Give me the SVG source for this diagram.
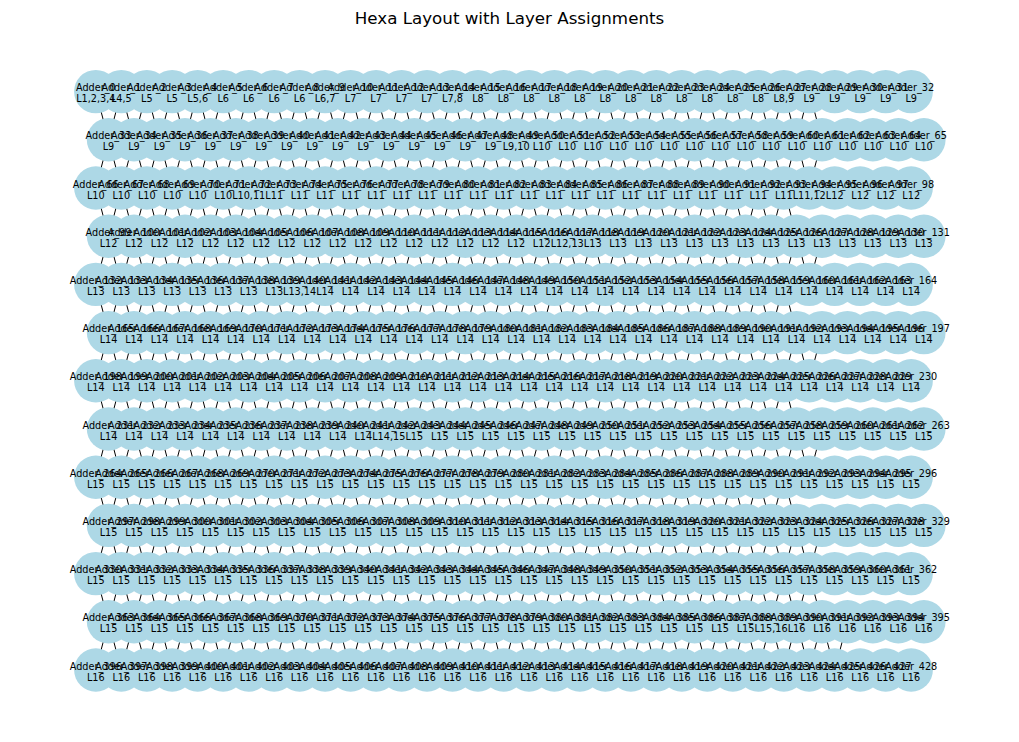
<svg xmlns="http://www.w3.org/2000/svg" width="1019" height="742" viewBox="0 0 1019 742">
<style>
.bg{fill:#fff}
.title{font-family:"DejaVu Sans","Liberation Sans",sans-serif;font-size:16.7px;fill:#000;text-anchor:middle}
#connectors path{fill:none;stroke:#000;stroke-width:1}
#nodes circle{fill:#add8e6;stroke:none}
#labels text{font-family:"DejaVu Sans","Liberation Sans",sans-serif;font-size:9.7px;fill:#000;text-anchor:middle}
</style>
<rect class="bg" width="1019" height="742"/>
<text class="title" x="509.5" y="24">Hexa Layout with Layer Assignments</text>
<g id="connectors">
<path d="M95.8 91.6l12.74 48.2 12.74-48.2 12.74 48.2 12.74-48.2 12.74 48.2 12.74-48.2 12.74 48.2 12.74-48.2 12.74 48.2 12.74-48.2 12.74 48.2 12.74-48.2 12.74 48.2 12.74-48.2 12.74 48.2 12.74-48.2 12.74 48.2 12.74-48.2 12.74 48.2 12.74-48.2 12.74 48.2 12.74-48.2 12.74 48.2 12.74-48.2 12.74 48.2 12.74-48.2 12.74 48.2 12.74-48.2 12.74 48.2 12.74-48.2 12.74 48.2 12.74-48.2 12.74 48.2 12.74-48.2 12.74 48.2 12.74-48.2 12.74 48.2 12.74-48.2 12.74 48.2 12.74-48.2 12.74 48.2 12.74-48.2 12.74 48.2 12.74-48.2 12.74 48.2 12.74-48.2 12.74 48.2 12.74-48.2 12.74 48.2 12.74-48.2 12.74 48.2 12.74-48.2 12.74 48.2 12.74-48.2 12.74 48.2 12.74-48.2 12.74 48.2"/>
<path d="M95.8 188l12.74-48.2 12.74 48.2 12.74-48.2 12.74 48.2 12.74-48.2 12.74 48.2 12.74-48.2 12.74 48.2 12.74-48.2 12.74 48.2 12.74-48.2 12.74 48.2 12.74-48.2 12.74 48.2 12.74-48.2 12.74 48.2 12.74-48.2 12.74 48.2 12.74-48.2 12.74 48.2 12.74-48.2 12.74 48.2 12.74-48.2 12.74 48.2 12.74-48.2 12.74 48.2 12.74-48.2 12.74 48.2 12.74-48.2 12.74 48.2 12.74-48.2 12.74 48.2 12.74-48.2 12.74 48.2 12.74-48.2 12.74 48.2 12.74-48.2 12.74 48.2 12.74-48.2 12.74 48.2 12.74-48.2 12.74 48.2 12.74-48.2 12.74 48.2 12.74-48.2 12.74 48.2 12.74-48.2 12.74 48.2 12.74-48.2 12.74 48.2 12.74-48.2 12.74 48.2 12.74-48.2 12.74 48.2 12.74-48.2 12.74 48.2 12.74-48.2"/>
<path d="M95.8 188l12.74 48.2 12.74-48.2 12.74 48.2 12.74-48.2 12.74 48.2 12.74-48.2 12.74 48.2 12.74-48.2 12.74 48.2 12.74-48.2 12.74 48.2 12.74-48.2 12.74 48.2 12.74-48.2 12.74 48.2 12.74-48.2 12.74 48.2 12.74-48.2 12.74 48.2 12.74-48.2 12.74 48.2 12.74-48.2 12.74 48.2 12.74-48.2 12.74 48.2 12.74-48.2 12.74 48.2 12.74-48.2 12.74 48.2 12.74-48.2 12.74 48.2 12.74-48.2 12.74 48.2 12.74-48.2 12.74 48.2 12.74-48.2 12.74 48.2 12.74-48.2 12.74 48.2 12.74-48.2 12.74 48.2 12.74-48.2 12.74 48.2 12.74-48.2 12.74 48.2 12.74-48.2 12.74 48.2 12.74-48.2 12.74 48.2 12.74-48.2 12.74 48.2 12.74-48.2 12.74 48.2 12.74-48.2 12.74 48.2"/>
<path d="M95.8 284.4l12.74-48.2 12.74 48.2 12.74-48.2 12.74 48.2 12.74-48.2 12.74 48.2 12.74-48.2 12.74 48.2 12.74-48.2 12.74 48.2 12.74-48.2 12.74 48.2 12.74-48.2 12.74 48.2 12.74-48.2 12.74 48.2 12.74-48.2 12.74 48.2 12.74-48.2 12.74 48.2 12.74-48.2 12.74 48.2 12.74-48.2 12.74 48.2 12.74-48.2 12.74 48.2 12.74-48.2 12.74 48.2 12.74-48.2 12.74 48.2 12.74-48.2 12.74 48.2 12.74-48.2 12.74 48.2 12.74-48.2 12.74 48.2 12.74-48.2 12.74 48.2 12.74-48.2 12.74 48.2 12.74-48.2 12.74 48.2 12.74-48.2 12.74 48.2 12.74-48.2 12.74 48.2 12.74-48.2 12.74 48.2 12.74-48.2 12.74 48.2 12.74-48.2 12.74 48.2 12.74-48.2 12.74 48.2 12.74-48.2 12.74 48.2 12.74-48.2"/>
<path d="M95.8 284.4l12.74 48.2 12.74-48.2 12.74 48.2 12.74-48.2 12.74 48.2 12.74-48.2 12.74 48.2 12.74-48.2 12.74 48.2 12.74-48.2 12.74 48.2 12.74-48.2 12.74 48.2 12.74-48.2 12.74 48.2 12.74-48.2 12.74 48.2 12.74-48.2 12.74 48.2 12.74-48.2 12.74 48.2 12.74-48.2 12.74 48.2 12.74-48.2 12.74 48.2 12.74-48.2 12.74 48.2 12.74-48.2 12.74 48.2 12.74-48.2 12.74 48.2 12.74-48.2 12.74 48.2 12.74-48.2 12.74 48.2 12.74-48.2 12.74 48.2 12.74-48.2 12.74 48.2 12.74-48.2 12.74 48.2 12.74-48.2 12.74 48.2 12.74-48.2 12.74 48.2 12.74-48.2 12.74 48.2 12.74-48.2 12.74 48.2 12.74-48.2 12.74 48.2 12.74-48.2 12.74 48.2 12.74-48.2 12.74 48.2"/>
<path d="M95.8 380.8l12.74-48.2 12.74 48.2 12.74-48.2 12.74 48.2 12.74-48.2 12.74 48.2 12.74-48.2 12.74 48.2 12.74-48.2 12.74 48.2 12.74-48.2 12.74 48.2 12.74-48.2 12.74 48.2 12.74-48.2 12.74 48.2 12.74-48.2 12.74 48.2 12.74-48.2 12.74 48.2 12.74-48.2 12.74 48.2 12.74-48.2 12.74 48.2 12.74-48.2 12.74 48.2 12.74-48.2 12.74 48.2 12.74-48.2 12.74 48.2 12.74-48.2 12.74 48.2 12.74-48.2 12.74 48.2 12.74-48.2 12.74 48.2 12.74-48.2 12.74 48.2 12.74-48.2 12.74 48.2 12.74-48.2 12.74 48.2 12.74-48.2 12.74 48.2 12.74-48.2 12.74 48.2 12.74-48.2 12.74 48.2 12.74-48.2 12.74 48.2 12.74-48.2 12.74 48.2 12.74-48.2 12.74 48.2 12.74-48.2 12.74 48.2 12.74-48.2"/>
<path d="M95.8 380.8l12.74 48.2 12.74-48.2 12.74 48.2 12.74-48.2 12.74 48.2 12.74-48.2 12.74 48.2 12.74-48.2 12.74 48.2 12.74-48.2 12.74 48.2 12.74-48.2 12.74 48.2 12.74-48.2 12.74 48.2 12.74-48.2 12.74 48.2 12.74-48.2 12.74 48.2 12.74-48.2 12.74 48.2 12.74-48.2 12.74 48.2 12.74-48.2 12.74 48.2 12.74-48.2 12.74 48.2 12.74-48.2 12.74 48.2 12.74-48.2 12.74 48.2 12.74-48.2 12.74 48.2 12.74-48.2 12.74 48.2 12.74-48.2 12.74 48.2 12.74-48.2 12.74 48.2 12.74-48.2 12.74 48.2 12.74-48.2 12.74 48.2 12.74-48.2 12.74 48.2 12.74-48.2 12.74 48.2 12.74-48.2 12.74 48.2 12.74-48.2 12.74 48.2 12.74-48.2 12.74 48.2 12.74-48.2 12.74 48.2"/>
<path d="M95.8 477.2l12.74-48.2 12.74 48.2 12.74-48.2 12.74 48.2 12.74-48.2 12.74 48.2 12.74-48.2 12.74 48.2 12.74-48.2 12.74 48.2 12.74-48.2 12.74 48.2 12.74-48.2 12.74 48.2 12.74-48.2 12.74 48.2 12.74-48.2 12.74 48.2 12.74-48.2 12.74 48.2 12.74-48.2 12.74 48.2 12.74-48.2 12.74 48.2 12.74-48.2 12.74 48.2 12.74-48.2 12.74 48.2 12.74-48.2 12.74 48.2 12.74-48.2 12.74 48.2 12.74-48.2 12.74 48.2 12.74-48.2 12.74 48.2 12.74-48.2 12.74 48.2 12.74-48.2 12.74 48.2 12.74-48.2 12.74 48.2 12.74-48.2 12.74 48.2 12.74-48.2 12.74 48.2 12.74-48.2 12.74 48.2 12.74-48.2 12.74 48.2 12.74-48.2 12.74 48.2 12.74-48.2 12.74 48.2 12.74-48.2 12.74 48.2 12.74-48.2"/>
<path d="M95.8 477.2l12.74 48.2 12.74-48.2 12.74 48.2 12.74-48.2 12.74 48.2 12.74-48.2 12.74 48.2 12.74-48.2 12.74 48.2 12.74-48.2 12.74 48.2 12.74-48.2 12.74 48.2 12.74-48.2 12.74 48.2 12.74-48.2 12.74 48.2 12.74-48.2 12.74 48.2 12.74-48.2 12.74 48.2 12.74-48.2 12.74 48.2 12.74-48.2 12.74 48.2 12.74-48.2 12.74 48.2 12.74-48.2 12.74 48.2 12.74-48.2 12.74 48.2 12.74-48.2 12.74 48.2 12.74-48.2 12.74 48.2 12.74-48.2 12.74 48.2 12.74-48.2 12.74 48.2 12.74-48.2 12.74 48.2 12.74-48.2 12.74 48.2 12.74-48.2 12.74 48.2 12.74-48.2 12.74 48.2 12.74-48.2 12.74 48.2 12.74-48.2 12.74 48.2 12.74-48.2 12.74 48.2 12.74-48.2 12.74 48.2"/>
<path d="M95.8 573.6l12.74-48.2 12.74 48.2 12.74-48.2 12.74 48.2 12.74-48.2 12.74 48.2 12.74-48.2 12.74 48.2 12.74-48.2 12.74 48.2 12.74-48.2 12.74 48.2 12.74-48.2 12.74 48.2 12.74-48.2 12.74 48.2 12.74-48.2 12.74 48.2 12.74-48.2 12.74 48.2 12.74-48.2 12.74 48.2 12.74-48.2 12.74 48.2 12.74-48.2 12.74 48.2 12.74-48.2 12.74 48.2 12.74-48.2 12.74 48.2 12.74-48.2 12.74 48.2 12.74-48.2 12.74 48.2 12.74-48.2 12.74 48.2 12.74-48.2 12.74 48.2 12.74-48.2 12.74 48.2 12.74-48.2 12.74 48.2 12.74-48.2 12.74 48.2 12.74-48.2 12.74 48.2 12.74-48.2 12.74 48.2 12.74-48.2 12.74 48.2 12.74-48.2 12.74 48.2 12.74-48.2 12.74 48.2 12.74-48.2 12.74 48.2 12.74-48.2"/>
<path d="M95.8 573.6l12.74 48.2 12.74-48.2 12.74 48.2 12.74-48.2 12.74 48.2 12.74-48.2 12.74 48.2 12.74-48.2 12.74 48.2 12.74-48.2 12.74 48.2 12.74-48.2 12.74 48.2 12.74-48.2 12.74 48.2 12.74-48.2 12.74 48.2 12.74-48.2 12.74 48.2 12.74-48.2 12.74 48.2 12.74-48.2 12.74 48.2 12.74-48.2 12.74 48.2 12.74-48.2 12.74 48.2 12.74-48.2 12.74 48.2 12.74-48.2 12.74 48.2 12.74-48.2 12.74 48.2 12.74-48.2 12.74 48.2 12.74-48.2 12.74 48.2 12.74-48.2 12.74 48.2 12.74-48.2 12.74 48.2 12.74-48.2 12.74 48.2 12.74-48.2 12.74 48.2 12.74-48.2 12.74 48.2 12.74-48.2 12.74 48.2 12.74-48.2 12.74 48.2 12.74-48.2 12.74 48.2 12.74-48.2 12.74 48.2 12.74-48.2 12.74 48.2"/>
<path d="M95.8 670l12.74-48.2 12.74 48.2 12.74-48.2 12.74 48.2 12.74-48.2 12.74 48.2 12.74-48.2 12.74 48.2 12.74-48.2 12.74 48.2 12.74-48.2 12.74 48.2 12.74-48.2 12.74 48.2 12.74-48.2 12.74 48.2 12.74-48.2 12.74 48.2 12.74-48.2 12.74 48.2 12.74-48.2 12.74 48.2 12.74-48.2 12.74 48.2 12.74-48.2 12.74 48.2 12.74-48.2 12.74 48.2 12.74-48.2 12.74 48.2 12.74-48.2 12.74 48.2 12.74-48.2 12.74 48.2 12.74-48.2 12.74 48.2 12.74-48.2 12.74 48.2 12.74-48.2 12.74 48.2 12.74-48.2 12.74 48.2 12.74-48.2 12.74 48.2 12.74-48.2 12.74 48.2 12.74-48.2 12.74 48.2 12.74-48.2 12.74 48.2 12.74-48.2 12.74 48.2 12.74-48.2 12.74 48.2 12.74-48.2 12.74 48.2 12.74-48.2 12.74 48.2 12.74-48.2"/>
</g>
<g id="nodes">
<g transform="translate(0 91.6)">
<g id="Adder_0"><circle cx="95.8" r="21.7"/></g><g id="Adder_1"><circle cx="121.3" r="21.7"/></g><g id="Adder_2"><circle cx="146.8" r="21.7"/></g><g id="Adder_3"><circle cx="172.2" r="21.7"/></g><g id="Adder_4"><circle cx="197.7" r="21.7"/></g><g id="Adder_5"><circle cx="223.2" r="21.7"/></g><g id="Adder_6"><circle cx="248.7" r="21.7"/></g><g id="Adder_7"><circle cx="274.2" r="21.7"/></g><g id="Adder_8"><circle cx="299.6" r="21.7"/></g><g id="Adder_9"><circle cx="325.1" r="21.7"/></g><g id="Adder_10"><circle cx="350.6" r="21.7"/></g><g id="Adder_11"><circle cx="376.1" r="21.7"/></g><g id="Adder_12"><circle cx="401.6" r="21.7"/></g><g id="Adder_13"><circle cx="427" r="21.7"/></g><g id="Adder_14"><circle cx="452.5" r="21.7"/></g><g id="Adder_15"><circle cx="478" r="21.7"/></g><g id="Adder_16"><circle cx="503.5" r="21.7"/></g><g id="Adder_17"><circle cx="529" r="21.7"/></g><g id="Adder_18"><circle cx="554.4" r="21.7"/></g><g id="Adder_19"><circle cx="579.9" r="21.7"/></g><g id="Adder_20"><circle cx="605.4" r="21.7"/></g><g id="Adder_21"><circle cx="630.9" r="21.7"/></g><g id="Adder_22"><circle cx="656.4" r="21.7"/></g><g id="Adder_23"><circle cx="681.8" r="21.7"/></g><g id="Adder_24"><circle cx="707.3" r="21.7"/></g><g id="Adder_25"><circle cx="732.8" r="21.7"/></g><g id="Adder_26"><circle cx="758.3" r="21.7"/></g><g id="Adder_27"><circle cx="783.8" r="21.7"/></g><g id="Adder_28"><circle cx="809.2" r="21.7"/></g><g id="Adder_29"><circle cx="834.7" r="21.7"/></g><g id="Adder_30"><circle cx="860.2" r="21.7"/></g><g id="Adder_31"><circle cx="885.7" r="21.7"/></g><g id="Adder_32"><circle cx="911.2" r="21.7"/></g>
</g>
<g transform="translate(0 139.8)">
<g id="Adder_33"><circle cx="108.5" r="21.7"/></g><g id="Adder_34"><circle cx="134" r="21.7"/></g><g id="Adder_35"><circle cx="159.5" r="21.7"/></g><g id="Adder_36"><circle cx="185" r="21.7"/></g><g id="Adder_37"><circle cx="210.5" r="21.7"/></g><g id="Adder_38"><circle cx="235.9" r="21.7"/></g><g id="Adder_39"><circle cx="261.4" r="21.7"/></g><g id="Adder_40"><circle cx="286.9" r="21.7"/></g><g id="Adder_41"><circle cx="312.4" r="21.7"/></g><g id="Adder_42"><circle cx="337.9" r="21.7"/></g><g id="Adder_43"><circle cx="363.3" r="21.7"/></g><g id="Adder_44"><circle cx="388.8" r="21.7"/></g><g id="Adder_45"><circle cx="414.3" r="21.7"/></g><g id="Adder_46"><circle cx="439.8" r="21.7"/></g><g id="Adder_47"><circle cx="465.3" r="21.7"/></g><g id="Adder_48"><circle cx="490.7" r="21.7"/></g><g id="Adder_49"><circle cx="516.2" r="21.7"/></g><g id="Adder_50"><circle cx="541.7" r="21.7"/></g><g id="Adder_51"><circle cx="567.2" r="21.7"/></g><g id="Adder_52"><circle cx="592.7" r="21.7"/></g><g id="Adder_53"><circle cx="618.1" r="21.7"/></g><g id="Adder_54"><circle cx="643.6" r="21.7"/></g><g id="Adder_55"><circle cx="669.1" r="21.7"/></g><g id="Adder_56"><circle cx="694.6" r="21.7"/></g><g id="Adder_57"><circle cx="720.1" r="21.7"/></g><g id="Adder_58"><circle cx="745.5" r="21.7"/></g><g id="Adder_59"><circle cx="771" r="21.7"/></g><g id="Adder_60"><circle cx="796.5" r="21.7"/></g><g id="Adder_61"><circle cx="822" r="21.7"/></g><g id="Adder_62"><circle cx="847.5" r="21.7"/></g><g id="Adder_63"><circle cx="872.9" r="21.7"/></g><g id="Adder_64"><circle cx="898.4" r="21.7"/></g><g id="Adder_65"><circle cx="923.9" r="21.7"/></g>
</g>
<g transform="translate(0 188)">
<g id="Adder_66"><circle cx="95.8" r="21.7"/></g><g id="Adder_67"><circle cx="121.3" r="21.7"/></g><g id="Adder_68"><circle cx="146.8" r="21.7"/></g><g id="Adder_69"><circle cx="172.2" r="21.7"/></g><g id="Adder_70"><circle cx="197.7" r="21.7"/></g><g id="Adder_71"><circle cx="223.2" r="21.7"/></g><g id="Adder_72"><circle cx="248.7" r="21.7"/></g><g id="Adder_73"><circle cx="274.2" r="21.7"/></g><g id="Adder_74"><circle cx="299.6" r="21.7"/></g><g id="Adder_75"><circle cx="325.1" r="21.7"/></g><g id="Adder_76"><circle cx="350.6" r="21.7"/></g><g id="Adder_77"><circle cx="376.1" r="21.7"/></g><g id="Adder_78"><circle cx="401.6" r="21.7"/></g><g id="Adder_79"><circle cx="427" r="21.7"/></g><g id="Adder_80"><circle cx="452.5" r="21.7"/></g><g id="Adder_81"><circle cx="478" r="21.7"/></g><g id="Adder_82"><circle cx="503.5" r="21.7"/></g><g id="Adder_83"><circle cx="529" r="21.7"/></g><g id="Adder_84"><circle cx="554.4" r="21.7"/></g><g id="Adder_85"><circle cx="579.9" r="21.7"/></g><g id="Adder_86"><circle cx="605.4" r="21.7"/></g><g id="Adder_87"><circle cx="630.9" r="21.7"/></g><g id="Adder_88"><circle cx="656.4" r="21.7"/></g><g id="Adder_89"><circle cx="681.8" r="21.7"/></g><g id="Adder_90"><circle cx="707.3" r="21.7"/></g><g id="Adder_91"><circle cx="732.8" r="21.7"/></g><g id="Adder_92"><circle cx="758.3" r="21.7"/></g><g id="Adder_93"><circle cx="783.8" r="21.7"/></g><g id="Adder_94"><circle cx="809.2" r="21.7"/></g><g id="Adder_95"><circle cx="834.7" r="21.7"/></g><g id="Adder_96"><circle cx="860.2" r="21.7"/></g><g id="Adder_97"><circle cx="885.7" r="21.7"/></g><g id="Adder_98"><circle cx="911.2" r="21.7"/></g>
</g>
<g transform="translate(0 236.2)">
<g id="Adder_99"><circle cx="108.5" r="21.7"/></g><g id="Adder_100"><circle cx="134" r="21.7"/></g><g id="Adder_101"><circle cx="159.5" r="21.7"/></g><g id="Adder_102"><circle cx="185" r="21.7"/></g><g id="Adder_103"><circle cx="210.5" r="21.7"/></g><g id="Adder_104"><circle cx="235.9" r="21.7"/></g><g id="Adder_105"><circle cx="261.4" r="21.7"/></g><g id="Adder_106"><circle cx="286.9" r="21.7"/></g><g id="Adder_107"><circle cx="312.4" r="21.7"/></g><g id="Adder_108"><circle cx="337.9" r="21.7"/></g><g id="Adder_109"><circle cx="363.3" r="21.7"/></g><g id="Adder_110"><circle cx="388.8" r="21.7"/></g><g id="Adder_111"><circle cx="414.3" r="21.7"/></g><g id="Adder_112"><circle cx="439.8" r="21.7"/></g><g id="Adder_113"><circle cx="465.3" r="21.7"/></g><g id="Adder_114"><circle cx="490.7" r="21.7"/></g><g id="Adder_115"><circle cx="516.2" r="21.7"/></g><g id="Adder_116"><circle cx="541.7" r="21.7"/></g><g id="Adder_117"><circle cx="567.2" r="21.7"/></g><g id="Adder_118"><circle cx="592.7" r="21.7"/></g><g id="Adder_119"><circle cx="618.1" r="21.7"/></g><g id="Adder_120"><circle cx="643.6" r="21.7"/></g><g id="Adder_121"><circle cx="669.1" r="21.7"/></g><g id="Adder_122"><circle cx="694.6" r="21.7"/></g><g id="Adder_123"><circle cx="720.1" r="21.7"/></g><g id="Adder_124"><circle cx="745.5" r="21.7"/></g><g id="Adder_125"><circle cx="771" r="21.7"/></g><g id="Adder_126"><circle cx="796.5" r="21.7"/></g><g id="Adder_127"><circle cx="822" r="21.7"/></g><g id="Adder_128"><circle cx="847.5" r="21.7"/></g><g id="Adder_129"><circle cx="872.9" r="21.7"/></g><g id="Adder_130"><circle cx="898.4" r="21.7"/></g><g id="Adder_131"><circle cx="923.9" r="21.7"/></g>
</g>
<g transform="translate(0 284.4)">
<g id="Adder_132"><circle cx="95.8" r="21.7"/></g><g id="Adder_133"><circle cx="121.3" r="21.7"/></g><g id="Adder_134"><circle cx="146.8" r="21.7"/></g><g id="Adder_135"><circle cx="172.2" r="21.7"/></g><g id="Adder_136"><circle cx="197.7" r="21.7"/></g><g id="Adder_137"><circle cx="223.2" r="21.7"/></g><g id="Adder_138"><circle cx="248.7" r="21.7"/></g><g id="Adder_139"><circle cx="274.2" r="21.7"/></g><g id="Adder_140"><circle cx="299.6" r="21.7"/></g><g id="Adder_141"><circle cx="325.1" r="21.7"/></g><g id="Adder_142"><circle cx="350.6" r="21.7"/></g><g id="Adder_143"><circle cx="376.1" r="21.7"/></g><g id="Adder_144"><circle cx="401.6" r="21.7"/></g><g id="Adder_145"><circle cx="427" r="21.7"/></g><g id="Adder_146"><circle cx="452.5" r="21.7"/></g><g id="Adder_147"><circle cx="478" r="21.7"/></g><g id="Adder_148"><circle cx="503.5" r="21.7"/></g><g id="Adder_149"><circle cx="529" r="21.7"/></g><g id="Adder_150"><circle cx="554.4" r="21.7"/></g><g id="Adder_151"><circle cx="579.9" r="21.7"/></g><g id="Adder_152"><circle cx="605.4" r="21.7"/></g><g id="Adder_153"><circle cx="630.9" r="21.7"/></g><g id="Adder_154"><circle cx="656.4" r="21.7"/></g><g id="Adder_155"><circle cx="681.8" r="21.7"/></g><g id="Adder_156"><circle cx="707.3" r="21.7"/></g><g id="Adder_157"><circle cx="732.8" r="21.7"/></g><g id="Adder_158"><circle cx="758.3" r="21.7"/></g><g id="Adder_159"><circle cx="783.8" r="21.7"/></g><g id="Adder_160"><circle cx="809.2" r="21.7"/></g><g id="Adder_161"><circle cx="834.7" r="21.7"/></g><g id="Adder_162"><circle cx="860.2" r="21.7"/></g><g id="Adder_163"><circle cx="885.7" r="21.7"/></g><g id="Adder_164"><circle cx="911.2" r="21.7"/></g>
</g>
<g transform="translate(0 332.6)">
<g id="Adder_165"><circle cx="108.5" r="21.7"/></g><g id="Adder_166"><circle cx="134" r="21.7"/></g><g id="Adder_167"><circle cx="159.5" r="21.7"/></g><g id="Adder_168"><circle cx="185" r="21.7"/></g><g id="Adder_169"><circle cx="210.5" r="21.7"/></g><g id="Adder_170"><circle cx="235.9" r="21.7"/></g><g id="Adder_171"><circle cx="261.4" r="21.7"/></g><g id="Adder_172"><circle cx="286.9" r="21.7"/></g><g id="Adder_173"><circle cx="312.4" r="21.7"/></g><g id="Adder_174"><circle cx="337.9" r="21.7"/></g><g id="Adder_175"><circle cx="363.3" r="21.7"/></g><g id="Adder_176"><circle cx="388.8" r="21.7"/></g><g id="Adder_177"><circle cx="414.3" r="21.7"/></g><g id="Adder_178"><circle cx="439.8" r="21.7"/></g><g id="Adder_179"><circle cx="465.3" r="21.7"/></g><g id="Adder_180"><circle cx="490.7" r="21.7"/></g><g id="Adder_181"><circle cx="516.2" r="21.7"/></g><g id="Adder_182"><circle cx="541.7" r="21.7"/></g><g id="Adder_183"><circle cx="567.2" r="21.7"/></g><g id="Adder_184"><circle cx="592.7" r="21.7"/></g><g id="Adder_185"><circle cx="618.1" r="21.7"/></g><g id="Adder_186"><circle cx="643.6" r="21.7"/></g><g id="Adder_187"><circle cx="669.1" r="21.7"/></g><g id="Adder_188"><circle cx="694.6" r="21.7"/></g><g id="Adder_189"><circle cx="720.1" r="21.7"/></g><g id="Adder_190"><circle cx="745.5" r="21.7"/></g><g id="Adder_191"><circle cx="771" r="21.7"/></g><g id="Adder_192"><circle cx="796.5" r="21.7"/></g><g id="Adder_193"><circle cx="822" r="21.7"/></g><g id="Adder_194"><circle cx="847.5" r="21.7"/></g><g id="Adder_195"><circle cx="872.9" r="21.7"/></g><g id="Adder_196"><circle cx="898.4" r="21.7"/></g><g id="Adder_197"><circle cx="923.9" r="21.7"/></g>
</g>
<g transform="translate(0 380.8)">
<g id="Adder_198"><circle cx="95.8" r="21.7"/></g><g id="Adder_199"><circle cx="121.3" r="21.7"/></g><g id="Adder_200"><circle cx="146.8" r="21.7"/></g><g id="Adder_201"><circle cx="172.2" r="21.7"/></g><g id="Adder_202"><circle cx="197.7" r="21.7"/></g><g id="Adder_203"><circle cx="223.2" r="21.7"/></g><g id="Adder_204"><circle cx="248.7" r="21.7"/></g><g id="Adder_205"><circle cx="274.2" r="21.7"/></g><g id="Adder_206"><circle cx="299.6" r="21.7"/></g><g id="Adder_207"><circle cx="325.1" r="21.7"/></g><g id="Adder_208"><circle cx="350.6" r="21.7"/></g><g id="Adder_209"><circle cx="376.1" r="21.7"/></g><g id="Adder_210"><circle cx="401.6" r="21.7"/></g><g id="Adder_211"><circle cx="427" r="21.7"/></g><g id="Adder_212"><circle cx="452.5" r="21.7"/></g><g id="Adder_213"><circle cx="478" r="21.7"/></g><g id="Adder_214"><circle cx="503.5" r="21.7"/></g><g id="Adder_215"><circle cx="529" r="21.7"/></g><g id="Adder_216"><circle cx="554.4" r="21.7"/></g><g id="Adder_217"><circle cx="579.9" r="21.7"/></g><g id="Adder_218"><circle cx="605.4" r="21.7"/></g><g id="Adder_219"><circle cx="630.9" r="21.7"/></g><g id="Adder_220"><circle cx="656.4" r="21.7"/></g><g id="Adder_221"><circle cx="681.8" r="21.7"/></g><g id="Adder_222"><circle cx="707.3" r="21.7"/></g><g id="Adder_223"><circle cx="732.8" r="21.7"/></g><g id="Adder_224"><circle cx="758.3" r="21.7"/></g><g id="Adder_225"><circle cx="783.8" r="21.7"/></g><g id="Adder_226"><circle cx="809.2" r="21.7"/></g><g id="Adder_227"><circle cx="834.7" r="21.7"/></g><g id="Adder_228"><circle cx="860.2" r="21.7"/></g><g id="Adder_229"><circle cx="885.7" r="21.7"/></g><g id="Adder_230"><circle cx="911.2" r="21.7"/></g>
</g>
<g transform="translate(0 429)">
<g id="Adder_231"><circle cx="108.5" r="21.7"/></g><g id="Adder_232"><circle cx="134" r="21.7"/></g><g id="Adder_233"><circle cx="159.5" r="21.7"/></g><g id="Adder_234"><circle cx="185" r="21.7"/></g><g id="Adder_235"><circle cx="210.5" r="21.7"/></g><g id="Adder_236"><circle cx="235.9" r="21.7"/></g><g id="Adder_237"><circle cx="261.4" r="21.7"/></g><g id="Adder_238"><circle cx="286.9" r="21.7"/></g><g id="Adder_239"><circle cx="312.4" r="21.7"/></g><g id="Adder_240"><circle cx="337.9" r="21.7"/></g><g id="Adder_241"><circle cx="363.3" r="21.7"/></g><g id="Adder_242"><circle cx="388.8" r="21.7"/></g><g id="Adder_243"><circle cx="414.3" r="21.7"/></g><g id="Adder_244"><circle cx="439.8" r="21.7"/></g><g id="Adder_245"><circle cx="465.3" r="21.7"/></g><g id="Adder_246"><circle cx="490.7" r="21.7"/></g><g id="Adder_247"><circle cx="516.2" r="21.7"/></g><g id="Adder_248"><circle cx="541.7" r="21.7"/></g><g id="Adder_249"><circle cx="567.2" r="21.7"/></g><g id="Adder_250"><circle cx="592.7" r="21.7"/></g><g id="Adder_251"><circle cx="618.1" r="21.7"/></g><g id="Adder_252"><circle cx="643.6" r="21.7"/></g><g id="Adder_253"><circle cx="669.1" r="21.7"/></g><g id="Adder_254"><circle cx="694.6" r="21.7"/></g><g id="Adder_255"><circle cx="720.1" r="21.7"/></g><g id="Adder_256"><circle cx="745.5" r="21.7"/></g><g id="Adder_257"><circle cx="771" r="21.7"/></g><g id="Adder_258"><circle cx="796.5" r="21.7"/></g><g id="Adder_259"><circle cx="822" r="21.7"/></g><g id="Adder_260"><circle cx="847.5" r="21.7"/></g><g id="Adder_261"><circle cx="872.9" r="21.7"/></g><g id="Adder_262"><circle cx="898.4" r="21.7"/></g><g id="Adder_263"><circle cx="923.9" r="21.7"/></g>
</g>
<g transform="translate(0 477.2)">
<g id="Adder_264"><circle cx="95.8" r="21.7"/></g><g id="Adder_265"><circle cx="121.3" r="21.7"/></g><g id="Adder_266"><circle cx="146.8" r="21.7"/></g><g id="Adder_267"><circle cx="172.2" r="21.7"/></g><g id="Adder_268"><circle cx="197.7" r="21.7"/></g><g id="Adder_269"><circle cx="223.2" r="21.7"/></g><g id="Adder_270"><circle cx="248.7" r="21.7"/></g><g id="Adder_271"><circle cx="274.2" r="21.7"/></g><g id="Adder_272"><circle cx="299.6" r="21.7"/></g><g id="Adder_273"><circle cx="325.1" r="21.7"/></g><g id="Adder_274"><circle cx="350.6" r="21.7"/></g><g id="Adder_275"><circle cx="376.1" r="21.7"/></g><g id="Adder_276"><circle cx="401.6" r="21.7"/></g><g id="Adder_277"><circle cx="427" r="21.7"/></g><g id="Adder_278"><circle cx="452.5" r="21.7"/></g><g id="Adder_279"><circle cx="478" r="21.7"/></g><g id="Adder_280"><circle cx="503.5" r="21.7"/></g><g id="Adder_281"><circle cx="529" r="21.7"/></g><g id="Adder_282"><circle cx="554.4" r="21.7"/></g><g id="Adder_283"><circle cx="579.9" r="21.7"/></g><g id="Adder_284"><circle cx="605.4" r="21.7"/></g><g id="Adder_285"><circle cx="630.9" r="21.7"/></g><g id="Adder_286"><circle cx="656.4" r="21.7"/></g><g id="Adder_287"><circle cx="681.8" r="21.7"/></g><g id="Adder_288"><circle cx="707.3" r="21.7"/></g><g id="Adder_289"><circle cx="732.8" r="21.7"/></g><g id="Adder_290"><circle cx="758.3" r="21.7"/></g><g id="Adder_291"><circle cx="783.8" r="21.7"/></g><g id="Adder_292"><circle cx="809.2" r="21.7"/></g><g id="Adder_293"><circle cx="834.7" r="21.7"/></g><g id="Adder_294"><circle cx="860.2" r="21.7"/></g><g id="Adder_295"><circle cx="885.7" r="21.7"/></g><g id="Adder_296"><circle cx="911.2" r="21.7"/></g>
</g>
<g transform="translate(0 525.4)">
<g id="Adder_297"><circle cx="108.5" r="21.7"/></g><g id="Adder_298"><circle cx="134" r="21.7"/></g><g id="Adder_299"><circle cx="159.5" r="21.7"/></g><g id="Adder_300"><circle cx="185" r="21.7"/></g><g id="Adder_301"><circle cx="210.5" r="21.7"/></g><g id="Adder_302"><circle cx="235.9" r="21.7"/></g><g id="Adder_303"><circle cx="261.4" r="21.7"/></g><g id="Adder_304"><circle cx="286.9" r="21.7"/></g><g id="Adder_305"><circle cx="312.4" r="21.7"/></g><g id="Adder_306"><circle cx="337.9" r="21.7"/></g><g id="Adder_307"><circle cx="363.3" r="21.7"/></g><g id="Adder_308"><circle cx="388.8" r="21.7"/></g><g id="Adder_309"><circle cx="414.3" r="21.7"/></g><g id="Adder_310"><circle cx="439.8" r="21.7"/></g><g id="Adder_311"><circle cx="465.3" r="21.7"/></g><g id="Adder_312"><circle cx="490.7" r="21.7"/></g><g id="Adder_313"><circle cx="516.2" r="21.7"/></g><g id="Adder_314"><circle cx="541.7" r="21.7"/></g><g id="Adder_315"><circle cx="567.2" r="21.7"/></g><g id="Adder_316"><circle cx="592.7" r="21.7"/></g><g id="Adder_317"><circle cx="618.1" r="21.7"/></g><g id="Adder_318"><circle cx="643.6" r="21.7"/></g><g id="Adder_319"><circle cx="669.1" r="21.7"/></g><g id="Adder_320"><circle cx="694.6" r="21.7"/></g><g id="Adder_321"><circle cx="720.1" r="21.7"/></g><g id="Adder_322"><circle cx="745.5" r="21.7"/></g><g id="Adder_323"><circle cx="771" r="21.7"/></g><g id="Adder_324"><circle cx="796.5" r="21.7"/></g><g id="Adder_325"><circle cx="822" r="21.7"/></g><g id="Adder_326"><circle cx="847.5" r="21.7"/></g><g id="Adder_327"><circle cx="872.9" r="21.7"/></g><g id="Adder_328"><circle cx="898.4" r="21.7"/></g><g id="Adder_329"><circle cx="923.9" r="21.7"/></g>
</g>
<g transform="translate(0 573.6)">
<g id="Adder_330"><circle cx="95.8" r="21.7"/></g><g id="Adder_331"><circle cx="121.3" r="21.7"/></g><g id="Adder_332"><circle cx="146.8" r="21.7"/></g><g id="Adder_333"><circle cx="172.2" r="21.7"/></g><g id="Adder_334"><circle cx="197.7" r="21.7"/></g><g id="Adder_335"><circle cx="223.2" r="21.7"/></g><g id="Adder_336"><circle cx="248.7" r="21.7"/></g><g id="Adder_337"><circle cx="274.2" r="21.7"/></g><g id="Adder_338"><circle cx="299.6" r="21.7"/></g><g id="Adder_339"><circle cx="325.1" r="21.7"/></g><g id="Adder_340"><circle cx="350.6" r="21.7"/></g><g id="Adder_341"><circle cx="376.1" r="21.7"/></g><g id="Adder_342"><circle cx="401.6" r="21.7"/></g><g id="Adder_343"><circle cx="427" r="21.7"/></g><g id="Adder_344"><circle cx="452.5" r="21.7"/></g><g id="Adder_345"><circle cx="478" r="21.7"/></g><g id="Adder_346"><circle cx="503.5" r="21.7"/></g><g id="Adder_347"><circle cx="529" r="21.7"/></g><g id="Adder_348"><circle cx="554.4" r="21.7"/></g><g id="Adder_349"><circle cx="579.9" r="21.7"/></g><g id="Adder_350"><circle cx="605.4" r="21.7"/></g><g id="Adder_351"><circle cx="630.9" r="21.7"/></g><g id="Adder_352"><circle cx="656.4" r="21.7"/></g><g id="Adder_353"><circle cx="681.8" r="21.7"/></g><g id="Adder_354"><circle cx="707.3" r="21.7"/></g><g id="Adder_355"><circle cx="732.8" r="21.7"/></g><g id="Adder_356"><circle cx="758.3" r="21.7"/></g><g id="Adder_357"><circle cx="783.8" r="21.7"/></g><g id="Adder_358"><circle cx="809.2" r="21.7"/></g><g id="Adder_359"><circle cx="834.7" r="21.7"/></g><g id="Adder_360"><circle cx="860.2" r="21.7"/></g><g id="Adder_361"><circle cx="885.7" r="21.7"/></g><g id="Adder_362"><circle cx="911.2" r="21.7"/></g>
</g>
<g transform="translate(0 621.8)">
<g id="Adder_363"><circle cx="108.5" r="21.7"/></g><g id="Adder_364"><circle cx="134" r="21.7"/></g><g id="Adder_365"><circle cx="159.5" r="21.7"/></g><g id="Adder_366"><circle cx="185" r="21.7"/></g><g id="Adder_367"><circle cx="210.5" r="21.7"/></g><g id="Adder_368"><circle cx="235.9" r="21.7"/></g><g id="Adder_369"><circle cx="261.4" r="21.7"/></g><g id="Adder_370"><circle cx="286.9" r="21.7"/></g><g id="Adder_371"><circle cx="312.4" r="21.7"/></g><g id="Adder_372"><circle cx="337.9" r="21.7"/></g><g id="Adder_373"><circle cx="363.3" r="21.7"/></g><g id="Adder_374"><circle cx="388.8" r="21.7"/></g><g id="Adder_375"><circle cx="414.3" r="21.7"/></g><g id="Adder_376"><circle cx="439.8" r="21.7"/></g><g id="Adder_377"><circle cx="465.3" r="21.7"/></g><g id="Adder_378"><circle cx="490.7" r="21.7"/></g><g id="Adder_379"><circle cx="516.2" r="21.7"/></g><g id="Adder_380"><circle cx="541.7" r="21.7"/></g><g id="Adder_381"><circle cx="567.2" r="21.7"/></g><g id="Adder_382"><circle cx="592.7" r="21.7"/></g><g id="Adder_383"><circle cx="618.1" r="21.7"/></g><g id="Adder_384"><circle cx="643.6" r="21.7"/></g><g id="Adder_385"><circle cx="669.1" r="21.7"/></g><g id="Adder_386"><circle cx="694.6" r="21.7"/></g><g id="Adder_387"><circle cx="720.1" r="21.7"/></g><g id="Adder_388"><circle cx="745.5" r="21.7"/></g><g id="Adder_389"><circle cx="771" r="21.7"/></g><g id="Adder_390"><circle cx="796.5" r="21.7"/></g><g id="Adder_391"><circle cx="822" r="21.7"/></g><g id="Adder_392"><circle cx="847.5" r="21.7"/></g><g id="Adder_393"><circle cx="872.9" r="21.7"/></g><g id="Adder_394"><circle cx="898.4" r="21.7"/></g><g id="Adder_395"><circle cx="923.9" r="21.7"/></g>
</g>
<g transform="translate(0 670)">
<g id="Adder_396"><circle cx="95.8" r="21.7"/></g><g id="Adder_397"><circle cx="121.3" r="21.7"/></g><g id="Adder_398"><circle cx="146.8" r="21.7"/></g><g id="Adder_399"><circle cx="172.2" r="21.7"/></g><g id="Adder_400"><circle cx="197.7" r="21.7"/></g><g id="Adder_401"><circle cx="223.2" r="21.7"/></g><g id="Adder_402"><circle cx="248.7" r="21.7"/></g><g id="Adder_403"><circle cx="274.2" r="21.7"/></g><g id="Adder_404"><circle cx="299.6" r="21.7"/></g><g id="Adder_405"><circle cx="325.1" r="21.7"/></g><g id="Adder_406"><circle cx="350.6" r="21.7"/></g><g id="Adder_407"><circle cx="376.1" r="21.7"/></g><g id="Adder_408"><circle cx="401.6" r="21.7"/></g><g id="Adder_409"><circle cx="427" r="21.7"/></g><g id="Adder_410"><circle cx="452.5" r="21.7"/></g><g id="Adder_411"><circle cx="478" r="21.7"/></g><g id="Adder_412"><circle cx="503.5" r="21.7"/></g><g id="Adder_413"><circle cx="529" r="21.7"/></g><g id="Adder_414"><circle cx="554.4" r="21.7"/></g><g id="Adder_415"><circle cx="579.9" r="21.7"/></g><g id="Adder_416"><circle cx="605.4" r="21.7"/></g><g id="Adder_417"><circle cx="630.9" r="21.7"/></g><g id="Adder_418"><circle cx="656.4" r="21.7"/></g><g id="Adder_419"><circle cx="681.8" r="21.7"/></g><g id="Adder_420"><circle cx="707.3" r="21.7"/></g><g id="Adder_421"><circle cx="732.8" r="21.7"/></g><g id="Adder_422"><circle cx="758.3" r="21.7"/></g><g id="Adder_423"><circle cx="783.8" r="21.7"/></g><g id="Adder_424"><circle cx="809.2" r="21.7"/></g><g id="Adder_425"><circle cx="834.7" r="21.7"/></g><g id="Adder_426"><circle cx="860.2" r="21.7"/></g><g id="Adder_427"><circle cx="885.7" r="21.7"/></g><g id="Adder_428"><circle cx="911.2" r="21.7"/></g>
</g>
</g>
<g id="labels">
<g transform="translate(0 91.1)">
<text x="95.8">Adder_0<tspan x="95.8" dy="11">L1,2,3,4</tspan></text><text x="121.3">Adder_1<tspan x="121.3" dy="11">L4,5</tspan></text><text x="146.8">Adder_2<tspan x="146.8" dy="11">L5</tspan></text><text x="172.2">Adder_3<tspan x="172.2" dy="11">L5</tspan></text><text x="197.7">Adder_4<tspan x="197.7" dy="11">L5,6</tspan></text><text x="223.2">Adder_5<tspan x="223.2" dy="11">L6</tspan></text><text x="248.7">Adder_6<tspan x="248.7" dy="11">L6</tspan></text><text x="274.2">Adder_7<tspan x="274.2" dy="11">L6</tspan></text><text x="299.6">Adder_8<tspan x="299.6" dy="11">L6</tspan></text><text x="325.1">Adder_9<tspan x="325.1" dy="11">L6,7</tspan></text><text x="350.6">Adder_10<tspan x="350.6" dy="11">L7</tspan></text><text x="376.1">Adder_11<tspan x="376.1" dy="11">L7</tspan></text><text x="401.6">Adder_12<tspan x="401.6" dy="11">L7</tspan></text><text x="427">Adder_13<tspan x="427" dy="11">L7</tspan></text><text x="452.5">Adder_14<tspan x="452.5" dy="11">L7,8</tspan></text><text x="478">Adder_15<tspan x="478" dy="11">L8</tspan></text><text x="503.5">Adder_16<tspan x="503.5" dy="11">L8</tspan></text><text x="529">Adder_17<tspan x="529" dy="11">L8</tspan></text><text x="554.4">Adder_18<tspan x="554.4" dy="11">L8</tspan></text><text x="579.9">Adder_19<tspan x="579.9" dy="11">L8</tspan></text><text x="605.4">Adder_20<tspan x="605.4" dy="11">L8</tspan></text><text x="630.9">Adder_21<tspan x="630.9" dy="11">L8</tspan></text><text x="656.4">Adder_22<tspan x="656.4" dy="11">L8</tspan></text><text x="681.8">Adder_23<tspan x="681.8" dy="11">L8</tspan></text><text x="707.3">Adder_24<tspan x="707.3" dy="11">L8</tspan></text><text x="732.8">Adder_25<tspan x="732.8" dy="11">L8</tspan></text><text x="758.3">Adder_26<tspan x="758.3" dy="11">L8</tspan></text><text x="783.8">Adder_27<tspan x="783.8" dy="11">L8,9</tspan></text><text x="809.2">Adder_28<tspan x="809.2" dy="11">L9</tspan></text><text x="834.7">Adder_29<tspan x="834.7" dy="11">L9</tspan></text><text x="860.2">Adder_30<tspan x="860.2" dy="11">L9</tspan></text><text x="885.7">Adder_31<tspan x="885.7" dy="11">L9</tspan></text><text x="911.2">Adder_32<tspan x="911.2" dy="11">L9</tspan></text>
</g>
<g transform="translate(0 139.3)">
<text x="108.5">Adder_33<tspan x="108.5" dy="11">L9</tspan></text><text x="134">Adder_34<tspan x="134" dy="11">L9</tspan></text><text x="159.5">Adder_35<tspan x="159.5" dy="11">L9</tspan></text><text x="185">Adder_36<tspan x="185" dy="11">L9</tspan></text><text x="210.5">Adder_37<tspan x="210.5" dy="11">L9</tspan></text><text x="235.9">Adder_38<tspan x="235.9" dy="11">L9</tspan></text><text x="261.4">Adder_39<tspan x="261.4" dy="11">L9</tspan></text><text x="286.9">Adder_40<tspan x="286.9" dy="11">L9</tspan></text><text x="312.4">Adder_41<tspan x="312.4" dy="11">L9</tspan></text><text x="337.9">Adder_42<tspan x="337.9" dy="11">L9</tspan></text><text x="363.3">Adder_43<tspan x="363.3" dy="11">L9</tspan></text><text x="388.8">Adder_44<tspan x="388.8" dy="11">L9</tspan></text><text x="414.3">Adder_45<tspan x="414.3" dy="11">L9</tspan></text><text x="439.8">Adder_46<tspan x="439.8" dy="11">L9</tspan></text><text x="465.3">Adder_47<tspan x="465.3" dy="11">L9</tspan></text><text x="490.7">Adder_48<tspan x="490.7" dy="11">L9</tspan></text><text x="516.2">Adder_49<tspan x="516.2" dy="11">L9,10</tspan></text><text x="541.7">Adder_50<tspan x="541.7" dy="11">L10</tspan></text><text x="567.2">Adder_51<tspan x="567.2" dy="11">L10</tspan></text><text x="592.7">Adder_52<tspan x="592.7" dy="11">L10</tspan></text><text x="618.1">Adder_53<tspan x="618.1" dy="11">L10</tspan></text><text x="643.6">Adder_54<tspan x="643.6" dy="11">L10</tspan></text><text x="669.1">Adder_55<tspan x="669.1" dy="11">L10</tspan></text><text x="694.6">Adder_56<tspan x="694.6" dy="11">L10</tspan></text><text x="720.1">Adder_57<tspan x="720.1" dy="11">L10</tspan></text><text x="745.5">Adder_58<tspan x="745.5" dy="11">L10</tspan></text><text x="771">Adder_59<tspan x="771" dy="11">L10</tspan></text><text x="796.5">Adder_60<tspan x="796.5" dy="11">L10</tspan></text><text x="822">Adder_61<tspan x="822" dy="11">L10</tspan></text><text x="847.5">Adder_62<tspan x="847.5" dy="11">L10</tspan></text><text x="872.9">Adder_63<tspan x="872.9" dy="11">L10</tspan></text><text x="898.4">Adder_64<tspan x="898.4" dy="11">L10</tspan></text><text x="923.9">Adder_65<tspan x="923.9" dy="11">L10</tspan></text>
</g>
<g transform="translate(0 187.5)">
<text x="95.8">Adder_66<tspan x="95.8" dy="11">L10</tspan></text><text x="121.3">Adder_67<tspan x="121.3" dy="11">L10</tspan></text><text x="146.8">Adder_68<tspan x="146.8" dy="11">L10</tspan></text><text x="172.2">Adder_69<tspan x="172.2" dy="11">L10</tspan></text><text x="197.7">Adder_70<tspan x="197.7" dy="11">L10</tspan></text><text x="223.2">Adder_71<tspan x="223.2" dy="11">L10</tspan></text><text x="248.7">Adder_72<tspan x="248.7" dy="11">L10,11</tspan></text><text x="274.2">Adder_73<tspan x="274.2" dy="11">L11</tspan></text><text x="299.6">Adder_74<tspan x="299.6" dy="11">L11</tspan></text><text x="325.1">Adder_75<tspan x="325.1" dy="11">L11</tspan></text><text x="350.6">Adder_76<tspan x="350.6" dy="11">L11</tspan></text><text x="376.1">Adder_77<tspan x="376.1" dy="11">L11</tspan></text><text x="401.6">Adder_78<tspan x="401.6" dy="11">L11</tspan></text><text x="427">Adder_79<tspan x="427" dy="11">L11</tspan></text><text x="452.5">Adder_80<tspan x="452.5" dy="11">L11</tspan></text><text x="478">Adder_81<tspan x="478" dy="11">L11</tspan></text><text x="503.5">Adder_82<tspan x="503.5" dy="11">L11</tspan></text><text x="529">Adder_83<tspan x="529" dy="11">L11</tspan></text><text x="554.4">Adder_84<tspan x="554.4" dy="11">L11</tspan></text><text x="579.9">Adder_85<tspan x="579.9" dy="11">L11</tspan></text><text x="605.4">Adder_86<tspan x="605.4" dy="11">L11</tspan></text><text x="630.9">Adder_87<tspan x="630.9" dy="11">L11</tspan></text><text x="656.4">Adder_88<tspan x="656.4" dy="11">L11</tspan></text><text x="681.8">Adder_89<tspan x="681.8" dy="11">L11</tspan></text><text x="707.3">Adder_90<tspan x="707.3" dy="11">L11</tspan></text><text x="732.8">Adder_91<tspan x="732.8" dy="11">L11</tspan></text><text x="758.3">Adder_92<tspan x="758.3" dy="11">L11</tspan></text><text x="783.8">Adder_93<tspan x="783.8" dy="11">L11</tspan></text><text x="809.2">Adder_94<tspan x="809.2" dy="11">L11,12</tspan></text><text x="834.7">Adder_95<tspan x="834.7" dy="11">L12</tspan></text><text x="860.2">Adder_96<tspan x="860.2" dy="11">L12</tspan></text><text x="885.7">Adder_97<tspan x="885.7" dy="11">L12</tspan></text><text x="911.2">Adder_98<tspan x="911.2" dy="11">L12</tspan></text>
</g>
<g transform="translate(0 235.7)">
<text x="108.5">Adder_99<tspan x="108.5" dy="11">L12</tspan></text><text x="134">Adder_100<tspan x="134" dy="11">L12</tspan></text><text x="159.5">Adder_101<tspan x="159.5" dy="11">L12</tspan></text><text x="185">Adder_102<tspan x="185" dy="11">L12</tspan></text><text x="210.5">Adder_103<tspan x="210.5" dy="11">L12</tspan></text><text x="235.9">Adder_104<tspan x="235.9" dy="11">L12</tspan></text><text x="261.4">Adder_105<tspan x="261.4" dy="11">L12</tspan></text><text x="286.9">Adder_106<tspan x="286.9" dy="11">L12</tspan></text><text x="312.4">Adder_107<tspan x="312.4" dy="11">L12</tspan></text><text x="337.9">Adder_108<tspan x="337.9" dy="11">L12</tspan></text><text x="363.3">Adder_109<tspan x="363.3" dy="11">L12</tspan></text><text x="388.8">Adder_110<tspan x="388.8" dy="11">L12</tspan></text><text x="414.3">Adder_111<tspan x="414.3" dy="11">L12</tspan></text><text x="439.8">Adder_112<tspan x="439.8" dy="11">L12</tspan></text><text x="465.3">Adder_113<tspan x="465.3" dy="11">L12</tspan></text><text x="490.7">Adder_114<tspan x="490.7" dy="11">L12</tspan></text><text x="516.2">Adder_115<tspan x="516.2" dy="11">L12</tspan></text><text x="541.7">Adder_116<tspan x="541.7" dy="11">L12</tspan></text><text x="567.2">Adder_117<tspan x="567.2" dy="11">L12,13</tspan></text><text x="592.7">Adder_118<tspan x="592.7" dy="11">L13</tspan></text><text x="618.1">Adder_119<tspan x="618.1" dy="11">L13</tspan></text><text x="643.6">Adder_120<tspan x="643.6" dy="11">L13</tspan></text><text x="669.1">Adder_121<tspan x="669.1" dy="11">L13</tspan></text><text x="694.6">Adder_122<tspan x="694.6" dy="11">L13</tspan></text><text x="720.1">Adder_123<tspan x="720.1" dy="11">L13</tspan></text><text x="745.5">Adder_124<tspan x="745.5" dy="11">L13</tspan></text><text x="771">Adder_125<tspan x="771" dy="11">L13</tspan></text><text x="796.5">Adder_126<tspan x="796.5" dy="11">L13</tspan></text><text x="822">Adder_127<tspan x="822" dy="11">L13</tspan></text><text x="847.5">Adder_128<tspan x="847.5" dy="11">L13</tspan></text><text x="872.9">Adder_129<tspan x="872.9" dy="11">L13</tspan></text><text x="898.4">Adder_130<tspan x="898.4" dy="11">L13</tspan></text><text x="923.9">Adder_131<tspan x="923.9" dy="11">L13</tspan></text>
</g>
<g transform="translate(0 283.9)">
<text x="95.8">Adder_132<tspan x="95.8" dy="11">L13</tspan></text><text x="121.3">Adder_133<tspan x="121.3" dy="11">L13</tspan></text><text x="146.8">Adder_134<tspan x="146.8" dy="11">L13</tspan></text><text x="172.2">Adder_135<tspan x="172.2" dy="11">L13</tspan></text><text x="197.7">Adder_136<tspan x="197.7" dy="11">L13</tspan></text><text x="223.2">Adder_137<tspan x="223.2" dy="11">L13</tspan></text><text x="248.7">Adder_138<tspan x="248.7" dy="11">L13</tspan></text><text x="274.2">Adder_139<tspan x="274.2" dy="11">L13</tspan></text><text x="299.6">Adder_140<tspan x="299.6" dy="11">L13,14</tspan></text><text x="325.1">Adder_141<tspan x="325.1" dy="11">L14</tspan></text><text x="350.6">Adder_142<tspan x="350.6" dy="11">L14</tspan></text><text x="376.1">Adder_143<tspan x="376.1" dy="11">L14</tspan></text><text x="401.6">Adder_144<tspan x="401.6" dy="11">L14</tspan></text><text x="427">Adder_145<tspan x="427" dy="11">L14</tspan></text><text x="452.5">Adder_146<tspan x="452.5" dy="11">L14</tspan></text><text x="478">Adder_147<tspan x="478" dy="11">L14</tspan></text><text x="503.5">Adder_148<tspan x="503.5" dy="11">L14</tspan></text><text x="529">Adder_149<tspan x="529" dy="11">L14</tspan></text><text x="554.4">Adder_150<tspan x="554.4" dy="11">L14</tspan></text><text x="579.9">Adder_151<tspan x="579.9" dy="11">L14</tspan></text><text x="605.4">Adder_152<tspan x="605.4" dy="11">L14</tspan></text><text x="630.9">Adder_153<tspan x="630.9" dy="11">L14</tspan></text><text x="656.4">Adder_154<tspan x="656.4" dy="11">L14</tspan></text><text x="681.8">Adder_155<tspan x="681.8" dy="11">L14</tspan></text><text x="707.3">Adder_156<tspan x="707.3" dy="11">L14</tspan></text><text x="732.8">Adder_157<tspan x="732.8" dy="11">L14</tspan></text><text x="758.3">Adder_158<tspan x="758.3" dy="11">L14</tspan></text><text x="783.8">Adder_159<tspan x="783.8" dy="11">L14</tspan></text><text x="809.2">Adder_160<tspan x="809.2" dy="11">L14</tspan></text><text x="834.7">Adder_161<tspan x="834.7" dy="11">L14</tspan></text><text x="860.2">Adder_162<tspan x="860.2" dy="11">L14</tspan></text><text x="885.7">Adder_163<tspan x="885.7" dy="11">L14</tspan></text><text x="911.2">Adder_164<tspan x="911.2" dy="11">L14</tspan></text>
</g>
<g transform="translate(0 332.1)">
<text x="108.5">Adder_165<tspan x="108.5" dy="11">L14</tspan></text><text x="134">Adder_166<tspan x="134" dy="11">L14</tspan></text><text x="159.5">Adder_167<tspan x="159.5" dy="11">L14</tspan></text><text x="185">Adder_168<tspan x="185" dy="11">L14</tspan></text><text x="210.5">Adder_169<tspan x="210.5" dy="11">L14</tspan></text><text x="235.9">Adder_170<tspan x="235.9" dy="11">L14</tspan></text><text x="261.4">Adder_171<tspan x="261.4" dy="11">L14</tspan></text><text x="286.9">Adder_172<tspan x="286.9" dy="11">L14</tspan></text><text x="312.4">Adder_173<tspan x="312.4" dy="11">L14</tspan></text><text x="337.9">Adder_174<tspan x="337.9" dy="11">L14</tspan></text><text x="363.3">Adder_175<tspan x="363.3" dy="11">L14</tspan></text><text x="388.8">Adder_176<tspan x="388.8" dy="11">L14</tspan></text><text x="414.3">Adder_177<tspan x="414.3" dy="11">L14</tspan></text><text x="439.8">Adder_178<tspan x="439.8" dy="11">L14</tspan></text><text x="465.3">Adder_179<tspan x="465.3" dy="11">L14</tspan></text><text x="490.7">Adder_180<tspan x="490.7" dy="11">L14</tspan></text><text x="516.2">Adder_181<tspan x="516.2" dy="11">L14</tspan></text><text x="541.7">Adder_182<tspan x="541.7" dy="11">L14</tspan></text><text x="567.2">Adder_183<tspan x="567.2" dy="11">L14</tspan></text><text x="592.7">Adder_184<tspan x="592.7" dy="11">L14</tspan></text><text x="618.1">Adder_185<tspan x="618.1" dy="11">L14</tspan></text><text x="643.6">Adder_186<tspan x="643.6" dy="11">L14</tspan></text><text x="669.1">Adder_187<tspan x="669.1" dy="11">L14</tspan></text><text x="694.6">Adder_188<tspan x="694.6" dy="11">L14</tspan></text><text x="720.1">Adder_189<tspan x="720.1" dy="11">L14</tspan></text><text x="745.5">Adder_190<tspan x="745.5" dy="11">L14</tspan></text><text x="771">Adder_191<tspan x="771" dy="11">L14</tspan></text><text x="796.5">Adder_192<tspan x="796.5" dy="11">L14</tspan></text><text x="822">Adder_193<tspan x="822" dy="11">L14</tspan></text><text x="847.5">Adder_194<tspan x="847.5" dy="11">L14</tspan></text><text x="872.9">Adder_195<tspan x="872.9" dy="11">L14</tspan></text><text x="898.4">Adder_196<tspan x="898.4" dy="11">L14</tspan></text><text x="923.9">Adder_197<tspan x="923.9" dy="11">L14</tspan></text>
</g>
<g transform="translate(0 380.3)">
<text x="95.8">Adder_198<tspan x="95.8" dy="11">L14</tspan></text><text x="121.3">Adder_199<tspan x="121.3" dy="11">L14</tspan></text><text x="146.8">Adder_200<tspan x="146.8" dy="11">L14</tspan></text><text x="172.2">Adder_201<tspan x="172.2" dy="11">L14</tspan></text><text x="197.7">Adder_202<tspan x="197.7" dy="11">L14</tspan></text><text x="223.2">Adder_203<tspan x="223.2" dy="11">L14</tspan></text><text x="248.7">Adder_204<tspan x="248.7" dy="11">L14</tspan></text><text x="274.2">Adder_205<tspan x="274.2" dy="11">L14</tspan></text><text x="299.6">Adder_206<tspan x="299.6" dy="11">L14</tspan></text><text x="325.1">Adder_207<tspan x="325.1" dy="11">L14</tspan></text><text x="350.6">Adder_208<tspan x="350.6" dy="11">L14</tspan></text><text x="376.1">Adder_209<tspan x="376.1" dy="11">L14</tspan></text><text x="401.6">Adder_210<tspan x="401.6" dy="11">L14</tspan></text><text x="427">Adder_211<tspan x="427" dy="11">L14</tspan></text><text x="452.5">Adder_212<tspan x="452.5" dy="11">L14</tspan></text><text x="478">Adder_213<tspan x="478" dy="11">L14</tspan></text><text x="503.5">Adder_214<tspan x="503.5" dy="11">L14</tspan></text><text x="529">Adder_215<tspan x="529" dy="11">L14</tspan></text><text x="554.4">Adder_216<tspan x="554.4" dy="11">L14</tspan></text><text x="579.9">Adder_217<tspan x="579.9" dy="11">L14</tspan></text><text x="605.4">Adder_218<tspan x="605.4" dy="11">L14</tspan></text><text x="630.9">Adder_219<tspan x="630.9" dy="11">L14</tspan></text><text x="656.4">Adder_220<tspan x="656.4" dy="11">L14</tspan></text><text x="681.8">Adder_221<tspan x="681.8" dy="11">L14</tspan></text><text x="707.3">Adder_222<tspan x="707.3" dy="11">L14</tspan></text><text x="732.8">Adder_223<tspan x="732.8" dy="11">L14</tspan></text><text x="758.3">Adder_224<tspan x="758.3" dy="11">L14</tspan></text><text x="783.8">Adder_225<tspan x="783.8" dy="11">L14</tspan></text><text x="809.2">Adder_226<tspan x="809.2" dy="11">L14</tspan></text><text x="834.7">Adder_227<tspan x="834.7" dy="11">L14</tspan></text><text x="860.2">Adder_228<tspan x="860.2" dy="11">L14</tspan></text><text x="885.7">Adder_229<tspan x="885.7" dy="11">L14</tspan></text><text x="911.2">Adder_230<tspan x="911.2" dy="11">L14</tspan></text>
</g>
<g transform="translate(0 428.5)">
<text x="108.5">Adder_231<tspan x="108.5" dy="11">L14</tspan></text><text x="134">Adder_232<tspan x="134" dy="11">L14</tspan></text><text x="159.5">Adder_233<tspan x="159.5" dy="11">L14</tspan></text><text x="185">Adder_234<tspan x="185" dy="11">L14</tspan></text><text x="210.5">Adder_235<tspan x="210.5" dy="11">L14</tspan></text><text x="235.9">Adder_236<tspan x="235.9" dy="11">L14</tspan></text><text x="261.4">Adder_237<tspan x="261.4" dy="11">L14</tspan></text><text x="286.9">Adder_238<tspan x="286.9" dy="11">L14</tspan></text><text x="312.4">Adder_239<tspan x="312.4" dy="11">L14</tspan></text><text x="337.9">Adder_240<tspan x="337.9" dy="11">L14</tspan></text><text x="363.3">Adder_241<tspan x="363.3" dy="11">L14</tspan></text><text x="388.8">Adder_242<tspan x="388.8" dy="11">L14,15</tspan></text><text x="414.3">Adder_243<tspan x="414.3" dy="11">L15</tspan></text><text x="439.8">Adder_244<tspan x="439.8" dy="11">L15</tspan></text><text x="465.3">Adder_245<tspan x="465.3" dy="11">L15</tspan></text><text x="490.7">Adder_246<tspan x="490.7" dy="11">L15</tspan></text><text x="516.2">Adder_247<tspan x="516.2" dy="11">L15</tspan></text><text x="541.7">Adder_248<tspan x="541.7" dy="11">L15</tspan></text><text x="567.2">Adder_249<tspan x="567.2" dy="11">L15</tspan></text><text x="592.7">Adder_250<tspan x="592.7" dy="11">L15</tspan></text><text x="618.1">Adder_251<tspan x="618.1" dy="11">L15</tspan></text><text x="643.6">Adder_252<tspan x="643.6" dy="11">L15</tspan></text><text x="669.1">Adder_253<tspan x="669.1" dy="11">L15</tspan></text><text x="694.6">Adder_254<tspan x="694.6" dy="11">L15</tspan></text><text x="720.1">Adder_255<tspan x="720.1" dy="11">L15</tspan></text><text x="745.5">Adder_256<tspan x="745.5" dy="11">L15</tspan></text><text x="771">Adder_257<tspan x="771" dy="11">L15</tspan></text><text x="796.5">Adder_258<tspan x="796.5" dy="11">L15</tspan></text><text x="822">Adder_259<tspan x="822" dy="11">L15</tspan></text><text x="847.5">Adder_260<tspan x="847.5" dy="11">L15</tspan></text><text x="872.9">Adder_261<tspan x="872.9" dy="11">L15</tspan></text><text x="898.4">Adder_262<tspan x="898.4" dy="11">L15</tspan></text><text x="923.9">Adder_263<tspan x="923.9" dy="11">L15</tspan></text>
</g>
<g transform="translate(0 476.7)">
<text x="95.8">Adder_264<tspan x="95.8" dy="11">L15</tspan></text><text x="121.3">Adder_265<tspan x="121.3" dy="11">L15</tspan></text><text x="146.8">Adder_266<tspan x="146.8" dy="11">L15</tspan></text><text x="172.2">Adder_267<tspan x="172.2" dy="11">L15</tspan></text><text x="197.7">Adder_268<tspan x="197.7" dy="11">L15</tspan></text><text x="223.2">Adder_269<tspan x="223.2" dy="11">L15</tspan></text><text x="248.7">Adder_270<tspan x="248.7" dy="11">L15</tspan></text><text x="274.2">Adder_271<tspan x="274.2" dy="11">L15</tspan></text><text x="299.6">Adder_272<tspan x="299.6" dy="11">L15</tspan></text><text x="325.1">Adder_273<tspan x="325.1" dy="11">L15</tspan></text><text x="350.6">Adder_274<tspan x="350.6" dy="11">L15</tspan></text><text x="376.1">Adder_275<tspan x="376.1" dy="11">L15</tspan></text><text x="401.6">Adder_276<tspan x="401.6" dy="11">L15</tspan></text><text x="427">Adder_277<tspan x="427" dy="11">L15</tspan></text><text x="452.5">Adder_278<tspan x="452.5" dy="11">L15</tspan></text><text x="478">Adder_279<tspan x="478" dy="11">L15</tspan></text><text x="503.5">Adder_280<tspan x="503.5" dy="11">L15</tspan></text><text x="529">Adder_281<tspan x="529" dy="11">L15</tspan></text><text x="554.4">Adder_282<tspan x="554.4" dy="11">L15</tspan></text><text x="579.9">Adder_283<tspan x="579.9" dy="11">L15</tspan></text><text x="605.4">Adder_284<tspan x="605.4" dy="11">L15</tspan></text><text x="630.9">Adder_285<tspan x="630.9" dy="11">L15</tspan></text><text x="656.4">Adder_286<tspan x="656.4" dy="11">L15</tspan></text><text x="681.8">Adder_287<tspan x="681.8" dy="11">L15</tspan></text><text x="707.3">Adder_288<tspan x="707.3" dy="11">L15</tspan></text><text x="732.8">Adder_289<tspan x="732.8" dy="11">L15</tspan></text><text x="758.3">Adder_290<tspan x="758.3" dy="11">L15</tspan></text><text x="783.8">Adder_291<tspan x="783.8" dy="11">L15</tspan></text><text x="809.2">Adder_292<tspan x="809.2" dy="11">L15</tspan></text><text x="834.7">Adder_293<tspan x="834.7" dy="11">L15</tspan></text><text x="860.2">Adder_294<tspan x="860.2" dy="11">L15</tspan></text><text x="885.7">Adder_295<tspan x="885.7" dy="11">L15</tspan></text><text x="911.2">Adder_296<tspan x="911.2" dy="11">L15</tspan></text>
</g>
<g transform="translate(0 524.9)">
<text x="108.5">Adder_297<tspan x="108.5" dy="11">L15</tspan></text><text x="134">Adder_298<tspan x="134" dy="11">L15</tspan></text><text x="159.5">Adder_299<tspan x="159.5" dy="11">L15</tspan></text><text x="185">Adder_300<tspan x="185" dy="11">L15</tspan></text><text x="210.5">Adder_301<tspan x="210.5" dy="11">L15</tspan></text><text x="235.9">Adder_302<tspan x="235.9" dy="11">L15</tspan></text><text x="261.4">Adder_303<tspan x="261.4" dy="11">L15</tspan></text><text x="286.9">Adder_304<tspan x="286.9" dy="11">L15</tspan></text><text x="312.4">Adder_305<tspan x="312.4" dy="11">L15</tspan></text><text x="337.9">Adder_306<tspan x="337.9" dy="11">L15</tspan></text><text x="363.3">Adder_307<tspan x="363.3" dy="11">L15</tspan></text><text x="388.8">Adder_308<tspan x="388.8" dy="11">L15</tspan></text><text x="414.3">Adder_309<tspan x="414.3" dy="11">L15</tspan></text><text x="439.8">Adder_310<tspan x="439.8" dy="11">L15</tspan></text><text x="465.3">Adder_311<tspan x="465.3" dy="11">L15</tspan></text><text x="490.7">Adder_312<tspan x="490.7" dy="11">L15</tspan></text><text x="516.2">Adder_313<tspan x="516.2" dy="11">L15</tspan></text><text x="541.7">Adder_314<tspan x="541.7" dy="11">L15</tspan></text><text x="567.2">Adder_315<tspan x="567.2" dy="11">L15</tspan></text><text x="592.7">Adder_316<tspan x="592.7" dy="11">L15</tspan></text><text x="618.1">Adder_317<tspan x="618.1" dy="11">L15</tspan></text><text x="643.6">Adder_318<tspan x="643.6" dy="11">L15</tspan></text><text x="669.1">Adder_319<tspan x="669.1" dy="11">L15</tspan></text><text x="694.6">Adder_320<tspan x="694.6" dy="11">L15</tspan></text><text x="720.1">Adder_321<tspan x="720.1" dy="11">L15</tspan></text><text x="745.5">Adder_322<tspan x="745.5" dy="11">L15</tspan></text><text x="771">Adder_323<tspan x="771" dy="11">L15</tspan></text><text x="796.5">Adder_324<tspan x="796.5" dy="11">L15</tspan></text><text x="822">Adder_325<tspan x="822" dy="11">L15</tspan></text><text x="847.5">Adder_326<tspan x="847.5" dy="11">L15</tspan></text><text x="872.9">Adder_327<tspan x="872.9" dy="11">L15</tspan></text><text x="898.4">Adder_328<tspan x="898.4" dy="11">L15</tspan></text><text x="923.9">Adder_329<tspan x="923.9" dy="11">L15</tspan></text>
</g>
<g transform="translate(0 573.1)">
<text x="95.8">Adder_330<tspan x="95.8" dy="11">L15</tspan></text><text x="121.3">Adder_331<tspan x="121.3" dy="11">L15</tspan></text><text x="146.8">Adder_332<tspan x="146.8" dy="11">L15</tspan></text><text x="172.2">Adder_333<tspan x="172.2" dy="11">L15</tspan></text><text x="197.7">Adder_334<tspan x="197.7" dy="11">L15</tspan></text><text x="223.2">Adder_335<tspan x="223.2" dy="11">L15</tspan></text><text x="248.7">Adder_336<tspan x="248.7" dy="11">L15</tspan></text><text x="274.2">Adder_337<tspan x="274.2" dy="11">L15</tspan></text><text x="299.6">Adder_338<tspan x="299.6" dy="11">L15</tspan></text><text x="325.1">Adder_339<tspan x="325.1" dy="11">L15</tspan></text><text x="350.6">Adder_340<tspan x="350.6" dy="11">L15</tspan></text><text x="376.1">Adder_341<tspan x="376.1" dy="11">L15</tspan></text><text x="401.6">Adder_342<tspan x="401.6" dy="11">L15</tspan></text><text x="427">Adder_343<tspan x="427" dy="11">L15</tspan></text><text x="452.5">Adder_344<tspan x="452.5" dy="11">L15</tspan></text><text x="478">Adder_345<tspan x="478" dy="11">L15</tspan></text><text x="503.5">Adder_346<tspan x="503.5" dy="11">L15</tspan></text><text x="529">Adder_347<tspan x="529" dy="11">L15</tspan></text><text x="554.4">Adder_348<tspan x="554.4" dy="11">L15</tspan></text><text x="579.9">Adder_349<tspan x="579.9" dy="11">L15</tspan></text><text x="605.4">Adder_350<tspan x="605.4" dy="11">L15</tspan></text><text x="630.9">Adder_351<tspan x="630.9" dy="11">L15</tspan></text><text x="656.4">Adder_352<tspan x="656.4" dy="11">L15</tspan></text><text x="681.8">Adder_353<tspan x="681.8" dy="11">L15</tspan></text><text x="707.3">Adder_354<tspan x="707.3" dy="11">L15</tspan></text><text x="732.8">Adder_355<tspan x="732.8" dy="11">L15</tspan></text><text x="758.3">Adder_356<tspan x="758.3" dy="11">L15</tspan></text><text x="783.8">Adder_357<tspan x="783.8" dy="11">L15</tspan></text><text x="809.2">Adder_358<tspan x="809.2" dy="11">L15</tspan></text><text x="834.7">Adder_359<tspan x="834.7" dy="11">L15</tspan></text><text x="860.2">Adder_360<tspan x="860.2" dy="11">L15</tspan></text><text x="885.7">Adder_361<tspan x="885.7" dy="11">L15</tspan></text><text x="911.2">Adder_362<tspan x="911.2" dy="11">L15</tspan></text>
</g>
<g transform="translate(0 621.3)">
<text x="108.5">Adder_363<tspan x="108.5" dy="11">L15</tspan></text><text x="134">Adder_364<tspan x="134" dy="11">L15</tspan></text><text x="159.5">Adder_365<tspan x="159.5" dy="11">L15</tspan></text><text x="185">Adder_366<tspan x="185" dy="11">L15</tspan></text><text x="210.5">Adder_367<tspan x="210.5" dy="11">L15</tspan></text><text x="235.9">Adder_368<tspan x="235.9" dy="11">L15</tspan></text><text x="261.4">Adder_369<tspan x="261.4" dy="11">L15</tspan></text><text x="286.9">Adder_370<tspan x="286.9" dy="11">L15</tspan></text><text x="312.4">Adder_371<tspan x="312.4" dy="11">L15</tspan></text><text x="337.9">Adder_372<tspan x="337.9" dy="11">L15</tspan></text><text x="363.3">Adder_373<tspan x="363.3" dy="11">L15</tspan></text><text x="388.8">Adder_374<tspan x="388.8" dy="11">L15</tspan></text><text x="414.3">Adder_375<tspan x="414.3" dy="11">L15</tspan></text><text x="439.8">Adder_376<tspan x="439.8" dy="11">L15</tspan></text><text x="465.3">Adder_377<tspan x="465.3" dy="11">L15</tspan></text><text x="490.7">Adder_378<tspan x="490.7" dy="11">L15</tspan></text><text x="516.2">Adder_379<tspan x="516.2" dy="11">L15</tspan></text><text x="541.7">Adder_380<tspan x="541.7" dy="11">L15</tspan></text><text x="567.2">Adder_381<tspan x="567.2" dy="11">L15</tspan></text><text x="592.7">Adder_382<tspan x="592.7" dy="11">L15</tspan></text><text x="618.1">Adder_383<tspan x="618.1" dy="11">L15</tspan></text><text x="643.6">Adder_384<tspan x="643.6" dy="11">L15</tspan></text><text x="669.1">Adder_385<tspan x="669.1" dy="11">L15</tspan></text><text x="694.6">Adder_386<tspan x="694.6" dy="11">L15</tspan></text><text x="720.1">Adder_387<tspan x="720.1" dy="11">L15</tspan></text><text x="745.5">Adder_388<tspan x="745.5" dy="11">L15</tspan></text><text x="771">Adder_389<tspan x="771" dy="11">L15,16</tspan></text><text x="796.5">Adder_390<tspan x="796.5" dy="11">L16</tspan></text><text x="822">Adder_391<tspan x="822" dy="11">L16</tspan></text><text x="847.5">Adder_392<tspan x="847.5" dy="11">L16</tspan></text><text x="872.9">Adder_393<tspan x="872.9" dy="11">L16</tspan></text><text x="898.4">Adder_394<tspan x="898.4" dy="11">L16</tspan></text><text x="923.9">Adder_395<tspan x="923.9" dy="11">L16</tspan></text>
</g>
<g transform="translate(0 669.5)">
<text x="95.8">Adder_396<tspan x="95.8" dy="11">L16</tspan></text><text x="121.3">Adder_397<tspan x="121.3" dy="11">L16</tspan></text><text x="146.8">Adder_398<tspan x="146.8" dy="11">L16</tspan></text><text x="172.2">Adder_399<tspan x="172.2" dy="11">L16</tspan></text><text x="197.7">Adder_400<tspan x="197.7" dy="11">L16</tspan></text><text x="223.2">Adder_401<tspan x="223.2" dy="11">L16</tspan></text><text x="248.7">Adder_402<tspan x="248.7" dy="11">L16</tspan></text><text x="274.2">Adder_403<tspan x="274.2" dy="11">L16</tspan></text><text x="299.6">Adder_404<tspan x="299.6" dy="11">L16</tspan></text><text x="325.1">Adder_405<tspan x="325.1" dy="11">L16</tspan></text><text x="350.6">Adder_406<tspan x="350.6" dy="11">L16</tspan></text><text x="376.1">Adder_407<tspan x="376.1" dy="11">L16</tspan></text><text x="401.6">Adder_408<tspan x="401.6" dy="11">L16</tspan></text><text x="427">Adder_409<tspan x="427" dy="11">L16</tspan></text><text x="452.5">Adder_410<tspan x="452.5" dy="11">L16</tspan></text><text x="478">Adder_411<tspan x="478" dy="11">L16</tspan></text><text x="503.5">Adder_412<tspan x="503.5" dy="11">L16</tspan></text><text x="529">Adder_413<tspan x="529" dy="11">L16</tspan></text><text x="554.4">Adder_414<tspan x="554.4" dy="11">L16</tspan></text><text x="579.9">Adder_415<tspan x="579.9" dy="11">L16</tspan></text><text x="605.4">Adder_416<tspan x="605.4" dy="11">L16</tspan></text><text x="630.9">Adder_417<tspan x="630.9" dy="11">L16</tspan></text><text x="656.4">Adder_418<tspan x="656.4" dy="11">L16</tspan></text><text x="681.8">Adder_419<tspan x="681.8" dy="11">L16</tspan></text><text x="707.3">Adder_420<tspan x="707.3" dy="11">L16</tspan></text><text x="732.8">Adder_421<tspan x="732.8" dy="11">L16</tspan></text><text x="758.3">Adder_422<tspan x="758.3" dy="11">L16</tspan></text><text x="783.8">Adder_423<tspan x="783.8" dy="11">L16</tspan></text><text x="809.2">Adder_424<tspan x="809.2" dy="11">L16</tspan></text><text x="834.7">Adder_425<tspan x="834.7" dy="11">L16</tspan></text><text x="860.2">Adder_426<tspan x="860.2" dy="11">L16</tspan></text><text x="885.7">Adder_427<tspan x="885.7" dy="11">L16</tspan></text><text x="911.2">Adder_428<tspan x="911.2" dy="11">L16</tspan></text>
</g>
</g>
</svg>
